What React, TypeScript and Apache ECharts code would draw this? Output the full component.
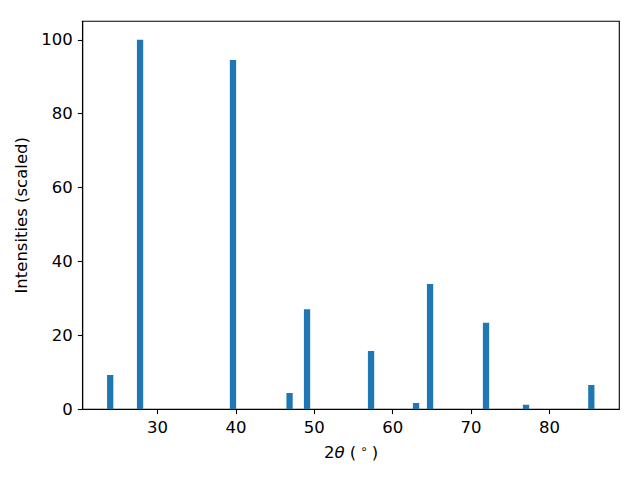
import React, { useEffect, useRef } from "react";
import * as echarts from "echarts";

// 2θ peak positions (degrees) and scaled intensities
const twoTheta = [23.95, 27.76, 39.62, 46.84, 49.07, 57.24, 62.98, 64.77, 71.91, 77.02, 85.35];
const intensity = [9.3, 100, 94.5, 4.4, 27.1, 15.8, 1.7, 33.9, 23.4, 1.2, 6.6];

const xTicks = [30, 40, 50, 60, 70, 80];
const yTicks = [0, 20, 40, 60, 80, 100];

const BAR_WIDTH = 0.8; // in data units of 2θ
const X_MIN = 20.44;
const X_MAX = 88.92;
const Y_MIN = 0;
const Y_MAX = 105;

const FONT = "DejaVu Sans";
const FS = 16.5;

export default function App() {
  const ref = useRef<HTMLDivElement>(null);

  useEffect(() => {
    if (!ref.current) return;
    const chart = echarts.init(ref.current, null, { renderer: "svg" });
    const data = twoTheta.map((x, i) => [x, intensity[i]]);
    const half = BAR_WIDTH / 2;

    chart.setOption({
      animation: false,
      backgroundColor: "#ffffff",
      grid: {
        left: 82.7,
        top: 21.3,
        right: 20.7,
        bottom: 70.7,
        show: true,
        borderColor: "#000000",
        borderWidth: 1.1,
        backgroundColor: "transparent",
      },
      xAxis: {
        type: "value",
        min: X_MIN,
        max: X_MAX,
        name: "{n|2}{i|θ}{n| (}{s|∘}{n|)}",
        nameLocation: "middle",
        nameGap: 34,
        nameTextStyle: {
          color: "#000",
          fontFamily: FONT,
          fontSize: FS,
          rich: {
            n: { fontFamily: FONT, fontSize: FS, color: "#000" },
            i: { fontFamily: FONT, fontSize: FS, fontStyle: "italic", color: "#000" },
            s: {
              fontFamily: FONT,
              fontSize: 12,
              color: "#000",
              verticalAlign: "top",
              padding: [0, 4, 7, 4],
            },
          },
        },
        axisLine: { show: true, onZero: false, lineStyle: { color: "#000", width: 1.1 } },
        axisTick: {
          show: true,
          length: 4.86,
          inside: false,
          customValues: xTicks,
          lineStyle: { color: "#000", width: 1.1 },
        },
        axisLabel: {
          customValues: xTicks,
          margin: 10,
          color: "#000",
          fontFamily: FONT,
          fontSize: FS,
        },
        splitLine: { show: false },
      },
      yAxis: {
        type: "value",
        min: Y_MIN,
        max: Y_MAX,
        name: "Intensities (scaled)",
        nameLocation: "middle",
        nameGap: 47,
        nameTextStyle: { color: "#000", fontFamily: FONT, fontSize: FS },
        axisLine: { show: true, onZero: false, lineStyle: { color: "#000", width: 1.1 } },
        axisTick: {
          show: true,
          length: 4.86,
          inside: false,
          customValues: yTicks,
          lineStyle: { color: "#000", width: 1.1 },
        },
        axisLabel: {
          customValues: yTicks,
          margin: 10,
          color: "#000",
          fontFamily: FONT,
          fontSize: FS,
        },
        splitLine: { show: false },
      },
      series: [
        {
          type: "custom",
          data,
          clip: true,
          renderItem: (params: any, api: any) => {
            const x = api.value(0);
            const y = api.value(1);
            const p0 = api.coord([x - half, y]);
            const p1 = api.coord([x + half, 0]);
            return {
              type: "rect",
              shape: { x: p0[0], y: p0[1], width: p1[0] - p0[0], height: p1[1] - p0[1] },
              style: { fill: "#1f77b4" },
            };
          },
        },
      ],
    });

    return () => {
      chart.dispose();
    };
  }, []);

  return (
    <div
      ref={ref}
      style={{ position: "fixed", left: 0, top: 0, width: 640, height: 480, background: "#fff" }}
    />
  );
}
